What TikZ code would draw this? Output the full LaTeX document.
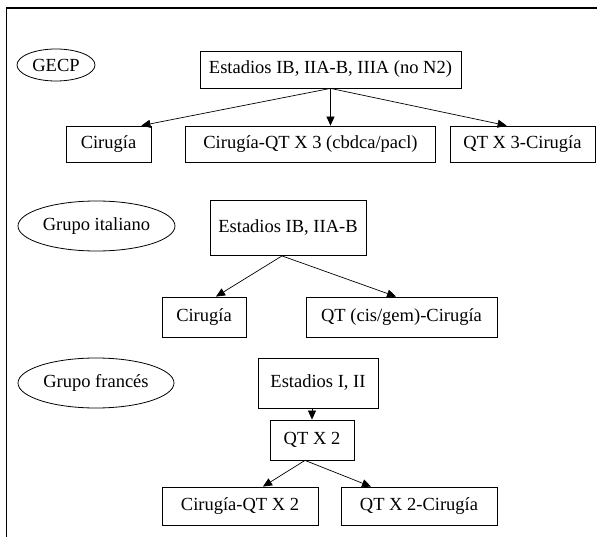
\documentclass[tikz,border=0pt]{standalone}
\usepackage{fontspec}
\setmainfont{Liberation Serif}
\usepackage{tikz}
\usetikzlibrary{shapes.geometric,arrows.meta}

\begin{document}
\begin{tikzpicture}[x=1pt,y=-1pt,
  caja/.style={draw,line width=0.8pt,rectangle,inner sep=0pt,text height=12.5pt,text depth=4pt,font=\fontsize{18.5}{22}\selectfont},
  grupo/.style={draw,line width=0.8pt,ellipse,inner sep=0pt,font=\fontsize{18.5}{22}\selectfont},
  flecha/.style={line width=0.7pt,-{Triangle[length=9pt,width=8pt]}}]
\useasboundingbox (0,0) rectangle (597,537);
% marco
\draw [line width=1.1pt](6.5,537) -- (6.5,8) -- (597,8) ;
% GECP
\node (gecp) at (56,65) [grupo,minimum width=78,minimum height=32] {GECP};
\node (est1) at (330.5,69.5) [caja,minimum width=261,minimum height=37] {Estadios IB, IIA-B, IIIA (no N2)};
\node (cir1) at (108.5,144) [caja,minimum width=85,minimum height=36] {Cirugía};
\node (cqt1) at (310.5,144) [caja,minimum width=250,minimum height=36] {Cirugía-QT X 3 (cbdca/pacl)};
\node (qtc1) at (522.5,144) [caja,minimum width=145,minimum height=36] {QT X 3-Cirugía};
\draw [flecha](est1.south) -- ([xshift=-10pt]cir1.north east) ;
\draw [flecha](est1.south) -- (est1.south |- cqt1.north) ;
\draw [flecha](est1.south) -- ([xshift=57pt]qtc1.north west) ;
% Grupo italiano
\node (ita) at (96.5,226) [grupo,minimum width=157,minimum height=50] {Grupo italiano};
\node (est2) at (288,228) [caja,minimum width=156,minimum height=55] {Estadios IB, IIA-B};
\node (cir2) at (204,317) [caja,minimum width=84,minimum height=40] {Cirugía};
\node (qtc2) at (401.5,317) [caja,minimum width=191,minimum height=40] {QT (cis/gem)-Cirugía};
\draw [flecha]([xshift=-6pt]est2.south) -- ([xshift=12pt]cir2.north) ;
\draw [flecha]([xshift=-6pt]est2.south) -- ([xshift=-5.5pt]qtc2.north) ;
% Grupo frances
\node (fra) at (96,383) [grupo,minimum width=156,minimum height=50] {Grupo francés};
\node (est3) at (318,383) [caja,minimum width=120,minimum height=50] {Estadios I, II};
\node (qt3) at (312,440) [caja,minimum width=84,minimum height=40] {QT X 2};
\node (cqt3) at (240,506) [caja,minimum width=156,minimum height=38] {Cirugía-QT X 2};
\node (qtc3) at (419,506) [caja,minimum width=156,minimum height=38] {QT X 2-Cirugía};
\draw [flecha](qt3.north |- est3.south) -- (qt3.north) ;
\draw [flecha]([xshift=-7pt]qt3.south) -- ([xshift=23pt]cqt3.north) ;
\draw [flecha]([xshift=-7pt]qt3.south) -- ([xshift=-48pt]qtc3.north) ;
\end{tikzpicture}
\end{document}
